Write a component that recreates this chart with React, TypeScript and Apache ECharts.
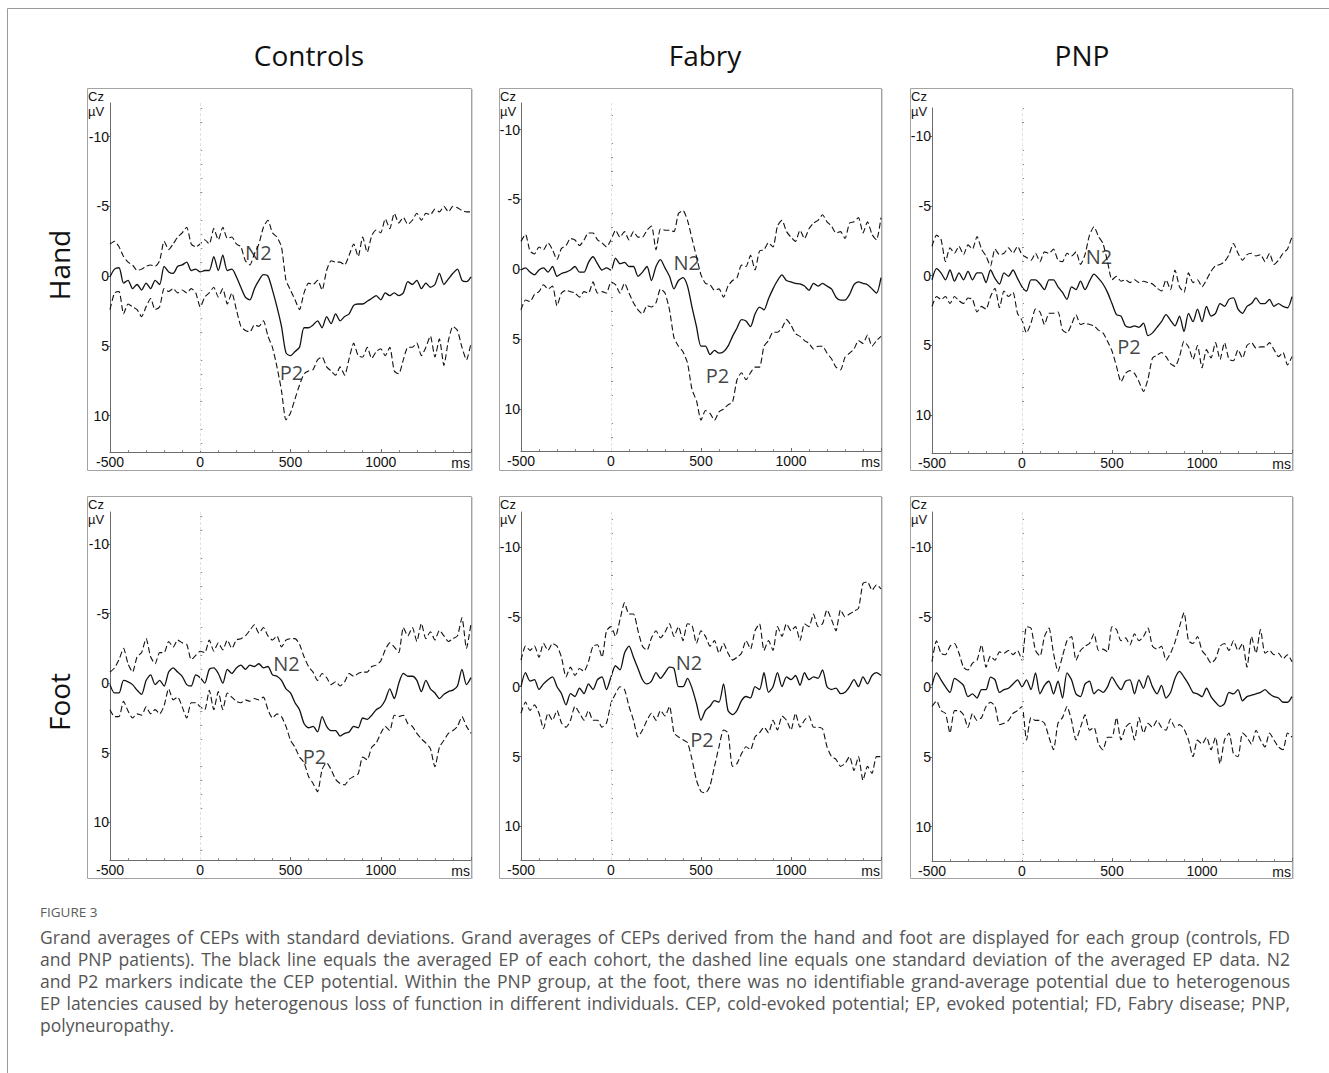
import React, { useEffect, useRef } from 'react';
import * as echarts from 'echarts';

// ---------- DATA ----------
const TIME_MS = [
  -500, -475, -450, -425, -400, -375, -350, -325, -300, -275,
  -250, -225, -200, -175, -150, -125, -100, -75, -50, -25,
  0, 25, 50, 75, 100, 125, 150, 175, 200, 225,
  250, 275, 300, 325, 350, 375, 400, 425, 450, 475,
  500, 525, 550, 575, 600, 625, 650, 675, 700, 725,
  750, 775, 800, 825, 850, 875, 900, 925, 950, 975,
  1000, 1025, 1050, 1075, 1100, 1125, 1150, 1175, 1200, 1225,
  1250, 1275, 1300, 1325, 1350, 1375, 1400, 1425, 1450, 1475,
  1500,
];

const X_TICK_LABELS = ['-500', '0', '500', '1000'];
const Y_TICKS = [-10, -5, 0, 5, 10];
const Y_MINOR_TICKS = [-12, -11, -9, -8, -7, -6, -4, -3, -2, -1, 1, 2, 3, 4, 6, 7, 8, 9, 11, 12];

const COLUMN_TITLES = ['Controls', 'Fabry', 'PNP'];
const ROW_TITLES = ['Hand', 'Foot'];

// Controls – hand
const CONTROLS_HAND_MEAN = [
  0.05, -0.5, -0.6, 0.5, 0.3, 0.9, 0.6, 1.0, 0.5, 0.9,
  0.3, 0.6, -0.7, -0.3, -0.2, -0.7, -0.8, -1.0, -0.4, -0.5,
  -0.3, -0.4, -0.4, -1.4, -0.4, -1.5, -0.4, -0.5, 0.05, 0.8,
  1.5, 1.7, 0.9, 0.3, -0.1, 0.0, 1.0, 2.2, 3.6, 5.5,
  5.7, 5.4, 5.1, 3.7, 3.7, 3.5, 3.2, 3.7, 2.9, 3.4,
  2.7, 3.2, 2.9, 2.7, 2.1, 2.0, 2.0, 1.8, 1.6, 1.4,
  1.7, 1.2, 1.4, 1.2, 1.4, 1.2, 0.4, 0.6, 0.3, 0.9,
  0.5, 0.8, 0.6, -0.2, 0.6, 0.2, -0.2, -0.5, 0.3, 0.4,
  0.05,
];
const CONTROLS_HAND_UPPER = [
  -2.3, -2.5, -2.1, -1.4, -1.0, -0.8, -0.4, -0.5, -0.7, -0.8,
  -0.7, -1.1, -2.5, -1.9, -2.3, -2.8, -3.1, -3.5, -2.3, -2.1,
  -2.3, -2.6, -2.3, -3.4, -2.6, -3.5, -2.7, -2.8, -2.3, -2.1,
  -1.1, -0.8, -1.6, -2.3, -3.5, -4.0, -3.1, -2.8, -2.1, 0.3,
  1.0, 1.7, 2.4, 1.2, 0.5, 0.6, 0.3, 1.0, -0.4, -1.1,
  -1.0, -1.0, -0.8, -1.5, -2.3, -1.4, -2.8, -1.7, -2.9, -3.3,
  -3.1, -4.1, -3.4, -4.5, -3.8, -4.2, -3.7, -4.0, -4.5, -4.0,
  -4.5, -4.4, -4.8, -4.6, -5.0, -4.6, -5.0, -4.9, -4.7, -4.6,
  -4.6,
];
const CONTROLS_HAND_LOWER = [
  2.4, 1.2, 1.1, 2.7, 2.0, 2.2, 2.4, 2.9, 2.2, 1.6,
  2.4, 2.2, 0.9, 1.1, 0.9, 1.2, 1.0, 1.2, 0.9, 1.2,
  2.2, 1.5, 1.2, 0.8, 1.5, 0.9, 2.0, 1.2, 2.4, 3.6,
  3.9, 4.0, 3.5, 3.6, 3.2, 4.3, 5.1, 6.5, 8.2, 10.3,
  9.8, 8.8, 7.8, 7.0, 6.8, 6.7, 6.0, 5.8, 6.5, 6.8,
  7.1, 6.5, 7.1, 5.9, 4.8, 5.7, 5.8, 5.1, 5.9, 5.4,
  5.2, 5.7, 5.1, 6.8, 7.0, 6.0, 5.1, 5.1, 4.8, 5.7,
  5.1, 4.3, 5.8, 4.5, 6.4, 4.6, 3.6, 3.9, 5.1, 6.0,
  4.8,
];

// Fabry – hand
const FABRY_HAND_MEAN = [
  0.05, -0.1, 0.2, 0.4, 0.05, -0.1, 0.2, -0.2, 0.5, 0.3,
  0.2, 0.05, -0.2, 0.2, 0.2, -0.5, -0.9, -0.4, 0.05, -0.1,
  0.05, -0.8, -0.4, -0.5, -0.2, -0.2, 0.5, 0.2, -0.2, 0.8,
  -0.2, -0.7, -0.1, 0.5, 1.4, 0.8, 0.6, 1.2, 2.7, 4.1,
  5.5, 5.5, 6.1, 5.8, 6.0, 5.9, 5.5, 4.8, 4.2, 3.6,
  3.7, 4.1, 3.2, 2.7, 2.9, 2.1, 1.4, 0.8, 0.4, 0.8,
  0.9, 1.0, 1.05, 1.2, 1.5, 1.0, 1.2, 1.0, 1.2, 1.4,
  2.0, 2.2, 2.2, 1.8, 1.1, 0.9, 1.0, 1.1, 1.4, 1.7,
  0.6,
];
const FABRY_HAND_UPPER = [
  -2.0, -2.5, -1.3, -1.1, -1.6, -1.4, -1.9, -1.4, -0.7, -1.5,
  -1.7, -2.2, -2.1, -1.7, -2.1, -2.6, -2.6, -2.1, -1.9, -1.6,
  -2.1, -2.8, -2.3, -2.7, -2.1, -2.7, -2.3, -2.3, -2.8, -3.1,
  -1.4, -2.9, -2.8, -2.8, -2.7, -4.0, -4.2, -3.5, -2.2, -0.9,
  0.4, 1.0, 1.1, 1.5, 1.4, 2.0, 1.2, 0.8, 0.6, -0.3,
  -0.2, -1.0, 0.05, -1.3, -1.4, -1.9, -1.6, -3.1, -3.5, -2.7,
  -2.3, -2.0, -2.8, -2.2, -2.9, -3.3, -3.5, -3.9, -3.4, -3.1,
  -2.6, -2.7, -2.2, -3.3, -3.4, -3.7, -2.6, -3.4, -2.5, -2.1,
  -3.7,
];
const FABRY_HAND_LOWER = [
  2.9, 2.2, 2.3, 1.8, 1.6, 1.1, 1.4, 1.2, 2.6, 1.7,
  1.5, 1.6, 1.7, 2.0, 1.6, 1.7, 0.9, 1.7, 1.6, 1.7,
  0.9, 1.1, 1.7, 1.0, 1.7, 2.4, 2.9, 3.2, 2.6, 2.7,
  2.4, 1.4, 1.7, 2.9, 4.9, 5.5, 5.9, 6.7, 8.6, 9.4,
  10.8, 10.1, 10.3, 10.8, 10.2, 10.0, 9.7, 9.5, 7.9, 7.4,
  7.9, 7.4, 7.0, 7.0, 5.5, 5.1, 4.5, 4.5, 4.2, 3.6,
  4.0, 4.6, 4.8, 5.1, 5.3, 5.7, 5.5, 5.5, 6.0, 6.4,
  7.0, 7.2, 6.3, 6.0, 5.7, 5.1, 5.3, 4.7, 5.5, 5.1,
  4.8,
];

// PNP – hand
const PNP_HAND_MEAN = [
  0.3, -0.5, -0.2, 0.3, -0.4, 0.4, -0.2, 0.3, -0.3, 0.3,
  -0.2, -0.2, 0.5, -0.4, 0.2, 0.6, -0.2, 0.05, -0.4, 0.2,
  0.8, 1.1, 0.3, 0.3, 0.6, 1.0, 0.3, 0.3, 0.8, 1.2,
  1.7, 0.8, 1.0, 0.4, 1.0, 0.4, -0.1, 0.2, 0.6, 1.2,
  2.0, 2.8, 2.9, 3.6, 3.7, 3.6, 3.7, 3.4, 4.3, 4.1,
  3.7, 3.3, 2.8, 3.2, 3.6, 2.9, 4.0, 2.7, 3.3, 2.4,
  3.3, 2.2, 2.9, 2.7, 2.0, 2.2, 1.7, 1.6, 2.4, 2.7,
  2.2, 2.0, 1.6, 2.0, 2.0, 1.7, 2.2, 2.0, 2.2, 2.3,
  1.5,
];
const PNP_HAND_UPPER = [
  -2.1, -2.9, -2.6, -1.0, -2.0, -1.6, -2.1, -1.5, -2.2, -1.9,
  -2.8, -1.9, -1.4, -0.7, -1.9, -1.5, -1.6, -2.0, -1.6, -2.1,
  -1.5, -1.3, -1.1, -1.6, -1.0, -1.7, -1.6, -1.9, -1.1, -1.0,
  -1.6, -1.4, -1.7, -0.8, -1.5, -2.9, -3.5, -2.8, -2.3, -1.0,
  0.3, 0.05, 0.4, 0.3, 0.5, 0.3, 0.5, 0.4, 0.5, 0.6,
  0.9, 1.1, 0.3, 1.0, -0.4, 0.8, 1.2, -0.2, 0.5, 0.3,
  0.8, 0.3, -0.3, -0.7, -0.8, -1.0, -1.5, -2.3, -1.6, -1.1,
  -1.5, -1.6, -1.4, -1.5, -1.0, -1.6, -0.8, -1.1, -1.6, -1.9,
  -2.8,
];
const PNP_HAND_LOWER = [
  2.2, 1.5, 1.7, 1.5, 2.0, 1.5, 1.8, 2.0, 1.6, 1.7,
  2.6, 2.2, 2.4, 1.5, 0.9, 2.3, 1.1, 1.5, 1.2, 2.7,
  3.2, 4.1, 3.4, 2.4, 2.6, 3.5, 2.7, 2.7, 2.6, 3.9,
  4.1, 3.5, 2.8, 3.5, 3.4, 3.5, 3.6, 3.9, 4.1, 4.7,
  5.4, 6.5, 7.6, 7.0, 6.8, 7.0, 7.6, 8.3, 7.4, 5.9,
  5.7, 5.5, 5.8, 6.3, 6.5, 5.8, 4.7, 5.1, 6.0, 5.0,
  6.6, 5.3, 5.9, 4.8, 6.0, 4.8, 6.0, 6.1, 5.3, 5.9,
  5.0, 4.8, 5.2, 5.1, 5.1, 4.8, 5.3, 5.8, 5.5, 6.4,
  5.8,
];

// Controls – foot
const CONTROLS_FOOT_MEAN = [
  0.1, 0.7, 0.7, -0.2, -0.1, 0.1, 0.5, 0.8, -0.2, -0.6,
  0.1, -0.2, 0.2, -0.8, -1.1, -0.8, -0.5, 0.1, 0.2, -0.6,
  -0.4, 0.0, -1.0, -1.1, -0.7, 0.0, -1.0, -0.7, -1.1, -1.3,
  -1.0, -1.3, -1.2, -1.4, -1.1, -1.2, -0.6, -0.5, -0.2, 0.4,
  0.7, 1.4, 1.9, 2.9, 3.2, 3.1, 3.5, 2.4, 3.1, 3.4,
  3.4, 3.8, 3.6, 3.5, 3.1, 3.2, 2.5, 2.6, 2.3, 1.9,
  1.7, 1.2, 0.4, 1.1, 0.0, -0.7, -0.5, -0.5, -0.2, 0.6,
  -0.2, 0.4, 0.7, 1.1, 0.8, 0.6, 0.5, 0.2, -1.0, 0.1,
  -0.4,
];
const CONTROLS_FOOT_UPPER = [
  -0.8, -1.1, -1.7, -2.5, -1.4, -0.8, -1.9, -2.2, -3.2, -1.9,
  -1.4, -2.2, -2.2, -3.0, -2.6, -3.1, -2.9, -2.8, -1.7, -2.0,
  -2.3, -2.2, -3.1, -2.3, -2.9, -2.4, -3.1, -2.5, -3.1, -3.2,
  -3.4, -3.8, -4.2, -3.6, -4.0, -3.4, -3.1, -3.4, -2.6, -3.1,
  -3.2, -3.2, -2.8, -1.9, -1.2, -0.8, -0.2, -0.7, -0.4, 0.1,
  -0.1, 0.2, -0.1, -0.7, -0.5, -0.7, -0.8, -0.8, -1.2, -1.3,
  -1.6, -2.4, -2.9, -2.6, -2.2, -4.0, -3.4, -4.0, -3.0, -4.3,
  -3.2, -3.7, -3.1, -3.8, -3.4, -3.0, -3.2, -3.4, -4.7, -2.5,
  -4.3,
];
const CONTROLS_FOOT_LOWER = [
  1.9, 2.4, 2.4, 1.3, 2.0, 2.5, 2.2, 2.3, 1.7, 2.2,
  1.9, 2.2, 1.6, 0.4, 1.2, 1.0, 1.7, 2.5, 1.4, 1.4,
  1.7, 1.9, 0.5, 1.9, 0.6, 1.9, 0.7, 1.0, 1.3, 1.4,
  1.2, 1.3, 1.1, 1.2, 1.0, 1.9, 2.5, 2.2, 2.4, 3.1,
  4.1, 4.6, 5.3, 5.7, 6.7, 7.2, 7.8, 6.2, 5.7, 6.2,
  6.9, 7.2, 7.3, 6.9, 6.7, 6.5, 5.3, 5.5, 4.6, 4.3,
  3.6, 3.1, 3.4, 2.3, 2.4, 2.3, 2.9, 3.1, 3.6, 4.0,
  4.3, 4.7, 6.0, 4.6, 4.1, 3.6, 3.4, 3.1, 2.4, 3.1,
  3.6,
];

// Fabry – foot
const FABRY_FOOT_MEAN = [
  0.0, -1.0, -0.4, -0.5, 0.2, -0.2, -0.5, -0.7, 0.0, 0.5,
  1.3, 0.5, 0.7, 0.1, 0.5, -0.2, 0.2, -0.5, -0.7, 0.2,
  -0.7, -1.5, -1.2, -2.4, -2.9, -2.1, -1.3, -0.5, -0.2, -0.4,
  -1.0, -0.6, -1.0, -1.4, -1.3, 0.0, 0.0, -0.6, 0.1, 1.2,
  2.4, 1.7, 1.4, 1.0, 1.1, -0.2, 1.7, 2.0, 1.7, 1.0,
  0.7, 0.8, 0.0, 0.2, -1.0, 0.4, 0.0, -1.0, 0.0, -0.7,
  -0.5, -0.8, -0.1, -1.0, -0.5, -0.7, -0.6, -1.2, 0.0, 0.2,
  0.1, 0.5, 0.4, 0.0, -0.5, 0.0, -0.7, -0.2, -0.8, -1.0,
  -0.8,
];
const FABRY_FOOT_UPPER = [
  -1.9, -2.9, -2.6, -2.9, -2.1, -3.1, -2.6, -3.1, -2.9, -2.1,
  -0.7, -1.4, -0.8, -1.3, -1.1, -1.8, -2.9, -3.0, -2.1, -4.0,
  -4.3, -3.6, -4.8, -6.0, -5.2, -5.2, -4.0, -2.9, -2.6, -3.5,
  -4.0, -3.5, -3.9, -4.5, -3.6, -4.3, -3.3, -4.5, -4.4, -3.1,
  -4.0, -3.6, -2.9, -3.3, -2.4, -3.1, -2.4, -1.9, -2.1, -2.4,
  -3.3, -2.7, -4.0, -4.5, -2.6, -3.3, -2.6, -4.3, -3.6, -4.5,
  -4.0, -4.3, -3.3, -4.5, -4.3, -5.2, -4.3, -4.5, -5.5, -4.8,
  -4.0, -5.5, -5.0, -5.2, -5.4, -5.6, -7.4, -7.5, -6.9, -7.3,
  -7.0,
];
const FABRY_FOOT_LOWER = [
  1.9, 1.1, 1.7, 1.3, 1.9, 3.0, 1.9, 2.4, 1.7, 2.6,
  2.9, 2.4, 1.4, 1.9, 2.4, 1.7, 2.4, 2.4, 2.9, 2.6,
  1.2, 0.5, 0.0, 0.2, 1.4, 2.4, 3.6, 3.1, 2.4, 1.9,
  2.4, 1.7, 2.1, 1.4, 3.3, 3.6, 3.8, 4.0, 5.2, 6.7,
  7.5, 7.6, 7.1, 5.7, 4.3, 3.1, 3.3, 5.7, 5.5, 4.8,
  4.3, 4.5, 3.6, 3.3, 2.9, 3.3, 2.4, 3.1, 2.1, 2.4,
  3.1, 1.9, 2.9, 2.4, 2.1, 2.9, 2.9, 3.0, 4.3, 5.0,
  5.2, 5.7, 5.5, 5.0, 6.0, 5.0, 6.7, 5.7, 6.2, 5.0,
  5.0,
];

// PNP – foot
const PNP_FOOT_MEAN = [
  -0.1, -1.0, -0.5, 0.0, 0.4, -0.6, -0.4, -0.1, 0.7, 0.5,
  0.8, 0.2, 0.2, -0.7, -0.5, 0.4, 0.2, 0.1, -0.2, -0.5,
  0.0, -0.5, 0.2, -1.0, 0.5, -0.1, -0.4, 0.5, -0.4, 0.8,
  -1.0, -0.5, 0.5, 0.7, -0.2, -0.4, 0.5, 0.2, 0.4, 0.0,
  -0.7, -0.2, 0.2, -0.4, -0.5, 0.5, -0.5, 0.1, -0.8, 0.0,
  0.5, -0.1, 0.8, 0.4, -0.6, -1.1, -0.7, -0.2, 0.4, 0.5,
  0.7, 0.1, 0.7, 1.1, 1.4, 1.2, 0.4, 0.5, 0.2, 1.0,
  0.7, 0.6, 0.5, 0.4, 0.2, 0.5, 0.7, 0.8, 1.1, 1.1,
  0.7,
];
const PNP_FOOT_UPPER = [
  -1.8, -3.3, -2.4, -2.3, -2.9, -3.1, -2.4, -1.4, -1.2, -1.7,
  -1.9, -3.0, -1.4, -2.2, -1.9, -2.5, -2.4, -2.6, -2.3, -2.6,
  -1.9, -4.3, -4.2, -2.6, -2.2, -3.6, -4.2, -2.4, -1.1, -2.2,
  -3.3, -3.6, -1.9, -2.6, -2.9, -3.1, -3.8, -2.6, -2.7, -2.5,
  -4.3, -4.1, -3.3, -3.5, -3.0, -3.8, -3.3, -3.6, -4.2, -2.9,
  -2.7, -2.9, -1.9, -2.4, -3.2, -4.3, -5.3, -3.3, -3.1, -3.6,
  -2.6, -2.2, -1.7, -2.0, -2.9, -3.1, -2.6, -3.3, -2.6, -3.1,
  -1.4, -3.6, -2.4, -4.1, -2.4, -2.6, -2.3, -2.4, -2.0, -2.3,
  -1.8,
];
const PNP_FOOT_LOWER = [
  1.4, 1.0, 1.7, 1.9, 3.3, 1.7, 1.7, 2.0, 2.9, 1.9,
  2.4, 2.2, 1.4, 1.1, 1.4, 2.7, 2.6, 2.4, 1.9, 1.7,
  1.4, 3.8, 2.2, 2.4, 2.4, 2.6, 3.6, 4.5, 2.6, 2.2,
  1.4, 2.4, 3.8, 2.9, 2.0, 3.1, 2.9, 4.1, 4.5, 3.6,
  3.6, 2.2, 3.8, 2.9, 2.6, 3.8, 2.2, 3.3, 2.6, 2.9,
  2.4, 2.9, 3.1, 2.3, 2.9, 2.7, 3.0, 3.8, 5.0, 3.8,
  4.1, 3.6, 4.5, 3.6, 5.5, 3.8, 3.3, 4.8, 5.0, 3.3,
  3.6, 4.1, 3.1, 3.8, 4.3, 3.3, 3.8, 4.3, 4.5, 3.3,
  3.6,
];

// Component markers (label name, latency ms, amplitude µV)
const CONTROLS_HAND_MARKS = [{ name: 'N2', t: 322, v: -1.7 }, { name: 'P2', t: 505, v: 6.9 }];
const FABRY_HAND_MARKS = [{ name: 'N2', t: 421, v: -0.5 }, { name: 'P2', t: 592, v: 7.6 }];
const PNP_HAND_MARKS = [{ name: 'N2', t: 428, v: -1.4 }, { name: 'P2', t: 594, v: 5.1 }];
const CONTROLS_FOOT_MARKS = [{ name: 'N2', t: 478, v: -1.4 }, { name: 'P2', t: 633, v: 5.3 }];
const FABRY_FOOT_MARKS = [{ name: 'N2', t: 433, v: -1.7 }, { name: 'P2', t: 505, v: 3.8 }];
const PNP_FOOT_MARKS: { name: string; t: number; v: number }[] = [];

const CAPTION_LABEL = 'FIGURE 3';
const CAPTION_LINES = [
  'Grand averages of CEPs with standard deviations. Grand averages of CEPs derived from the hand and foot are displayed for each group (controls, FD',
  'and PNP patients). The black line equals the averaged EP of each cohort, the dashed line equals one standard deviation of the averaged EP data. N2',
  'and P2 markers indicate the CEP potential. Within the PNP group, at the foot, there was no identifiable grand-average potential due to heterogenous',
  'EP latencies caused by heterogenous loss of function in different individuals. CEP, cold-evoked potential; EP, evoked potential; FD, Fabry disease; PNP,',
  'polyneuropathy.',
];

// ---------- LAYOUT ----------
const PANELS = [
  { mean: CONTROLS_HAND_MEAN, upper: CONTROLS_HAND_UPPER, lower: CONTROLS_HAND_LOWER, marks: CONTROLS_HAND_MARKS,
    grid: { left: 110, top: 103, width: 361, height: 349 }, yMin: -12.4, yMax: 12.6, box: { x: 87, y: 88, w: 384, h: 382 } },
  { mean: FABRY_HAND_MEAN, upper: FABRY_HAND_UPPER, lower: FABRY_HAND_LOWER, marks: FABRY_HAND_MARKS,
    grid: { left: 521, top: 103, width: 360, height: 348 }, yMin: -11.9, yMax: 13.0, box: { x: 499, y: 88, w: 382, h: 382 } },
  { mean: PNP_HAND_MEAN, upper: PNP_HAND_UPPER, lower: PNP_HAND_LOWER, marks: PNP_HAND_MARKS,
    grid: { left: 932, top: 108, width: 360, height: 345 }, yMin: -12.0, yMax: 12.7, box: { x: 910, y: 88, w: 382, h: 382 } },
  { mean: CONTROLS_FOOT_MEAN, upper: CONTROLS_FOOT_UPPER, lower: CONTROLS_FOOT_LOWER, marks: CONTROLS_FOOT_MARKS,
    grid: { left: 110, top: 512, width: 361, height: 348 }, yMin: -12.3, yMax: 12.7, box: { x: 87, y: 496, w: 384, h: 382 } },
  { mean: FABRY_FOOT_MEAN, upper: FABRY_FOOT_UPPER, lower: FABRY_FOOT_LOWER, marks: FABRY_FOOT_MARKS,
    grid: { left: 521, top: 512, width: 360, height: 348 }, yMin: -12.5, yMax: 12.4, box: { x: 499, y: 496, w: 382, h: 382 } },
  { mean: PNP_FOOT_MEAN, upper: PNP_FOOT_UPPER, lower: PNP_FOOT_LOWER, marks: PNP_FOOT_MARKS,
    grid: { left: 932, top: 512, width: 360, height: 349 }, yMin: -12.5, yMax: 12.45, box: { x: 910, y: 496, w: 382, h: 382 } },
];

const TITLE_POS = [{ x: 309, y: 55 }, { x: 705, y: 55 }, { x: 1082, y: 55 }];
const ROW_POS = [{ x: 59, y: 265 }, { x: 59, y: 702 }];

const AXIS_FONT = '"Liberation Sans", Arial, sans-serif';
const HEAD_FONT = '"Open Sans", "Noto Sans", sans-serif';
const AXIS_COLOR = '#6b6b6b';

function zip(t: number[], v: number[]) {
  return t.map((x, i) => [x, v[i]]);
}

function measure(text: string, fontSize: number, family: string) {
  const span = document.createElement('span');
  span.style.position = 'absolute';
  span.style.visibility = 'hidden';
  span.style.whiteSpace = 'pre';
  span.style.left = '-9999px';
  span.style.top = '0';
  span.style.fontFamily = family;
  span.style.fontSize = fontSize + 'px';
  span.textContent = text;
  document.body.appendChild(span);
  const w = span.getBoundingClientRect().width;
  document.body.removeChild(span);
  return w;
}

function txt(text: string, x: number, y: number, o: any = {}) {
  const style: any = {
    text,
    x: 0,
    y: 0,
    fill: o.fill || '#111',
    fontSize: o.fontSize || 13,
    fontFamily: o.fontFamily || AXIS_FONT,
    fontWeight: o.fontWeight || 'normal',
    align: o.align || 'left',
    textAlign: o.align || 'left',
    verticalAlign: o.va || 'middle',
    textVerticalAlign: o.va || 'middle',
  };
  return { type: 'text', x, y, rotation: o.rotation || 0, silent: true, z: 10, style };
}

export default function App() {
  const ref = useRef<HTMLDivElement>(null);

  useEffect(() => {
    document.body.style.margin = '0';
    if (!ref.current) return;
    const chart = echarts.init(ref.current, null, { renderer: 'svg' });

    const grids: any[] = [];
    const xAxes: any[] = [];
    const yAxes: any[] = [];
    const series: any[] = [];
    const graphics: any[] = [];

    // frame
    graphics.push({ type: 'line', silent: true, shape: { x1: 7.5, y1: 8.5, x2: 1329, y2: 8.5 }, style: { stroke: '#9a9a9a', lineWidth: 1 } });
    graphics.push({ type: 'line', silent: true, shape: { x1: 7.5, y1: 8.5, x2: 7.5, y2: 1073 }, style: { stroke: '#9a9a9a', lineWidth: 1 } });

    PANELS.forEach((p, i) => {
      grids.push({ left: p.grid.left, top: p.grid.top, width: p.grid.width, height: p.grid.height, containLabel: false });
      xAxes.push({
        type: 'value', gridIndex: i, min: -500, max: 1500, interval: 500,
        axisLine: { show: true, onZero: false, lineStyle: { color: AXIS_COLOR, width: 1 } },
        axisTick: { show: true, inside: true, length: 3, lineStyle: { color: AXIS_COLOR } },
        minorTick: { show: true, splitNumber: 5, length: 2, lineStyle: { color: '#8a8a8a' } },
        splitLine: { show: false },
        axisLabel: {
          color: '#111', fontSize: 14, fontFamily: AXIS_FONT, margin: 3,
          formatter: (v: number) => (X_TICK_LABELS.indexOf(String(v)) >= 0 ? String(v) : ''),
        },
      });
      yAxes.push({
        type: 'value', gridIndex: i, inverse: true, min: p.yMin, max: p.yMax, position: 'left',
        axisLine: { show: true, onZero: false, lineStyle: { color: AXIS_COLOR, width: 1 } },
        axisTick: { show: true, inside: false, length: 2, customValues: Y_TICKS, lineStyle: { color: AXIS_COLOR } },
        axisLabel: { customValues: Y_TICKS, color: '#111', fontSize: 14, fontFamily: AXIS_FONT, margin: 1 },
        splitLine: { show: false },
      });
      yAxes.push({
        type: 'value', gridIndex: i, inverse: true, min: p.yMin, max: p.yMax, position: 'left', offset: 0,
        axisLine: { show: false },
        axisTick: { show: true, inside: true, length: 2, customValues: Y_MINOR_TICKS, lineStyle: { color: '#8a8a8a' } },
        axisLabel: { show: false },
        splitLine: { show: false },
      });
      const yi = i * 2;
      series.push({
        type: 'line', xAxisIndex: i, yAxisIndex: yi, data: zip(TIME_MS, p.mean),
        showSymbol: false, symbol: 'none', smooth: 0.25, silent: true,
        lineStyle: { color: '#111', width: 1.3 },
        markLine: {
          silent: true, symbol: 'none', label: { show: false },
          lineStyle: { color: '#e2e2e2', type: [3, 2], width: 1 },
          data: [{ xAxis: 0 }],
        },
        z: 3,
      });
      series.push({
        type: 'line', xAxisIndex: i, yAxisIndex: yi, data: zip(TIME_MS, p.upper),
        showSymbol: false, symbol: 'none', smooth: 0.2, silent: true,
        lineStyle: { color: '#111', width: 1.1, type: [6, 3] }, z: 3,
      });
      series.push({
        type: 'line', xAxisIndex: i, yAxisIndex: yi, data: zip(TIME_MS, p.lower),
        showSymbol: false, symbol: 'none', smooth: 0.2, silent: true,
        lineStyle: { color: '#111', width: 1.1, type: [6, 3] }, z: 3,
      });
      if (p.marks.length) {
        series.push({
          type: 'scatter', xAxisIndex: i, yAxisIndex: yi, symbolSize: 1, silent: true,
          itemStyle: { color: 'rgba(0,0,0,0)' },
          data: p.marks.map((m) => ({ name: m.name, value: [m.t, m.v] })),
          label: { show: true, position: 'inside', formatter: '{b}', color: '#111', fontSize: 20, fontFamily: HEAD_FONT },
          z: 5,
        });
      }
      // panel box
      graphics.push({ type: 'rect', silent: true, z: 0, shape: { x: p.box.x + 0.5, y: p.box.y + 0.5, width: p.box.w, height: p.box.h },
        style: { fill: 'none', stroke: '#a3a3a3', lineWidth: 1 } });
      graphics.push({ type: 'line', silent: true, z: 0, shape: { x1: p.box.x + p.box.w + 1.5, y1: p.box.y + 1, x2: p.box.x + p.box.w + 1.5, y2: p.box.y + p.box.h + 1 },
        style: { stroke: '#d6d6d6', lineWidth: 1 } });
      graphics.push(txt('Cz', p.box.x + 1, p.box.y + 8, { fontSize: 13 }));
      graphics.push(txt('µV', p.box.x + 1, p.box.y + 23, { fontSize: 13 }));
      graphics.push(txt('ms', p.grid.left + p.grid.width - 1, p.grid.top + p.grid.height + 11, { fontSize: 14, align: 'right' }));
    });

    COLUMN_TITLES.forEach((t, i) => {
      graphics.push(txt(t, TITLE_POS[i].x, TITLE_POS[i].y, { fontSize: 28, fontFamily: HEAD_FONT, align: 'center' }));
    });
    ROW_TITLES.forEach((t, i) => {
      graphics.push(txt(t, ROW_POS[i].x, ROW_POS[i].y, { fontSize: 28, fontFamily: HEAD_FONT, align: 'center', rotation: Math.PI / 2 }));
    });

    // caption (justified like the reference)
    const capLeft = 40;
    const capRight = 1290;
    const capW = capRight - capLeft;
    const capFamily = '"Open Sans", sans-serif';
    const w0 = measure(CAPTION_LINES[0], 16, capFamily);
    const fs = Math.max(13, Math.min(17.5, Math.round(((16 * (capW - 14)) / w0) * 10) / 10));
    graphics.push(txt(CAPTION_LABEL, capLeft, 912, { fontSize: 13.5, fontFamily: capFamily, fill: '#5c5c5c' }));
    const lineYs = [937, 959, 981, 1003, 1025];
    CAPTION_LINES.forEach((line, li) => {
      const y = lineYs[li];
      if (li === CAPTION_LINES.length - 1) {
        graphics.push(txt(line, capLeft, y, { fontSize: fs, fontFamily: capFamily, fill: '#555' }));
        return;
      }
      const words = line.split(' ');
      const widths = words.map((w) => measure(w, fs, capFamily));
      const total = widths.reduce((a, b) => a + b, 0);
      const gap = (capW - total) / (words.length - 1);
      let x = capLeft;
      words.forEach((w, wi) => {
        graphics.push(txt(w, x, y, { fontSize: fs, fontFamily: capFamily, fill: '#555' }));
        x += widths[wi] + gap;
      });
    });

    chart.setOption({
      animation: false,
      backgroundColor: '#ffffff',
      grid: grids,
      xAxis: xAxes,
      yAxis: yAxes,
      series,
      graphic: { elements: graphics },
    });

    return () => chart.dispose();
  }, []);

  return <div ref={ref} style={{ width: 1329, height: 1073 }} />;
}
